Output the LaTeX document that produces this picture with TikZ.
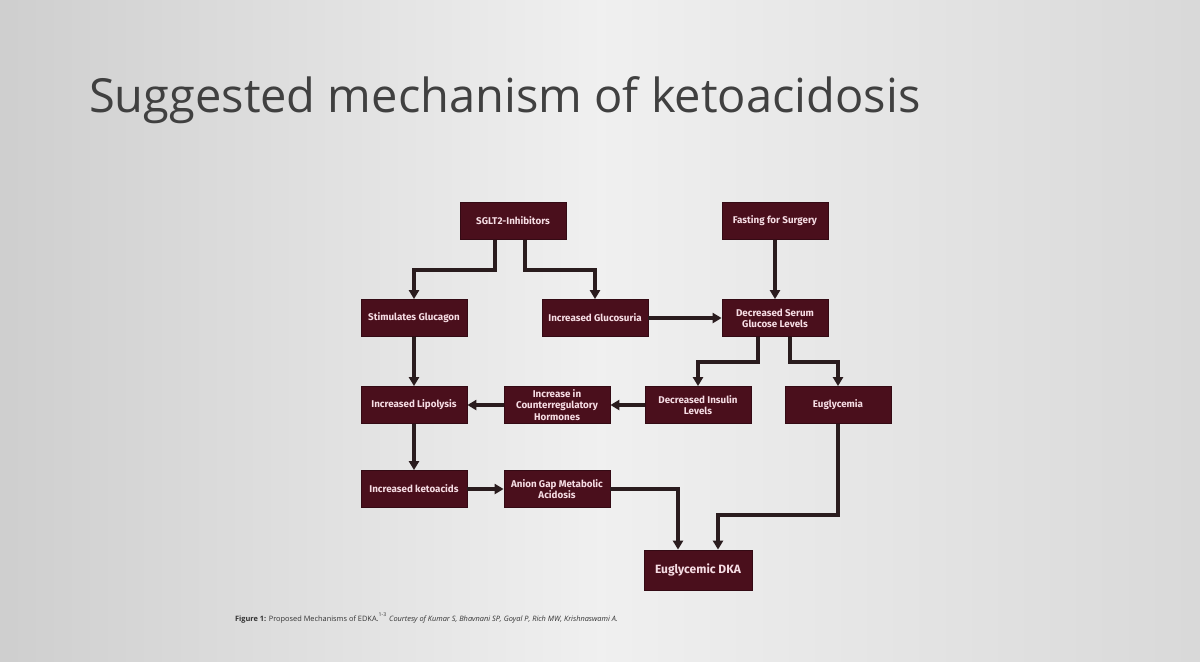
\documentclass[tikz,border=0pt]{standalone}
\usepackage{fontspec}
\setmainfont{Open Sans}
\newfontfamily\boxfont{Fira Sans}
\usetikzlibrary{arrows.meta}
\definecolor{maroon}{HTML}{4A0F1C}
\definecolor{boxtext}{HTML}{F6DDE4}
\definecolor{arr}{HTML}{2A1C1E}
\begin{document}
\begin{tikzpicture}[x=0.5pt,y=-0.5pt,
  bx/.style={draw=maroon!70!black,fill=maroon,text=boxtext,font=\boxfont\bfseries\fontsize{4.9}{5.6}\selectfont,
    minimum width=53pt,minimum height=18.5pt,align=center,inner sep=1pt},
  ar/.style={draw=arr,line width=1.7pt,-{Triangle[length=4.5pt,width=5pt]}}]
\shade[left color=gray!38,right color=gray!30,middle color=gray!12] (0,0) rectangle (1200,661);
\useasboundingbox (0,0) rectangle (1200,661);
\node[anchor=west,font=\fontsize{23.5}{28}\selectfont,text=black!75] (title) at (82,100) {Suggested mechanism of ketoacidosis};
\node[bx] (sglt) at (513,221) {SGLT2-Inhibitors};
\node[bx] (fast) at (775,221) {Fasting for Surgery};
\node[bx] (stim) at (414,318) {Stimulates Glucagon};
\node[bx] (gluc) at (595,318) {Increased Glucosuria};
\node[bx] (serum) at (775,318) {Decreased Serum\\Glucose Levels};
\node[bx] (lipo) at (414,405) {Increased Lipolysis};
\node[bx] (counter) at (557,405) {Increase in\\Counterregulatory\\Hormones};
\node[bx] (insulin) at (698,405) {Decreased Insulin\\Levels};
\node[bx] (eugly) at (838,405) {Euglycemia};
\node[bx] (keto) at (414,489) {Increased ketoacids};
\node[bx] (anion) at (557,489) {Anion Gap Metabolic\\Acidosis};
\node[bx,minimum width=54pt,minimum height=20pt,font=\boxfont\bfseries\fontsize{6}{7}\selectfont] (dka) at (698,570) {Euglycemic DKA};
\draw[ar] (sglt.south -| 495,0) |- (414,270) -- (stim.north);
\draw[ar] (sglt.south -| 525,0) |- (595,270) -- (gluc.north);
\draw[ar] (fast) -- (serum);
\draw[ar] (gluc) -- (serum);
\draw[ar] (serum.south -| 758,0) |- (698,362) -- (insulin.north);
\draw[ar] (serum.south -| 790,0) |- (838,362) -- (eugly.north);
\draw[ar] (stim) -- (lipo);
\draw[ar] (insulin) -- (counter);
\draw[ar] (counter) -- (lipo);
\draw[ar] (lipo) -- (keto);
\draw[ar] (keto) -- (anion);
\draw[ar] (anion.east) -| (dka.north -| 678,0);
\draw[ar] (eugly.south) |- (718,515) -- (dka.north -| 718,0);
\node[anchor=west,font=\fontsize{3.7}{4.5}\selectfont,text=black!80] (cap) at (228,618) {\textbf{Figure 1:} Proposed Mechanisms of EDKA.\textsuperscript{1-3} \textit{Courtesy of Kumar S, Bhavnani SP, Goyal P, Rich MW, Krishnaswami A.}};
\end{tikzpicture}
\end{document}
